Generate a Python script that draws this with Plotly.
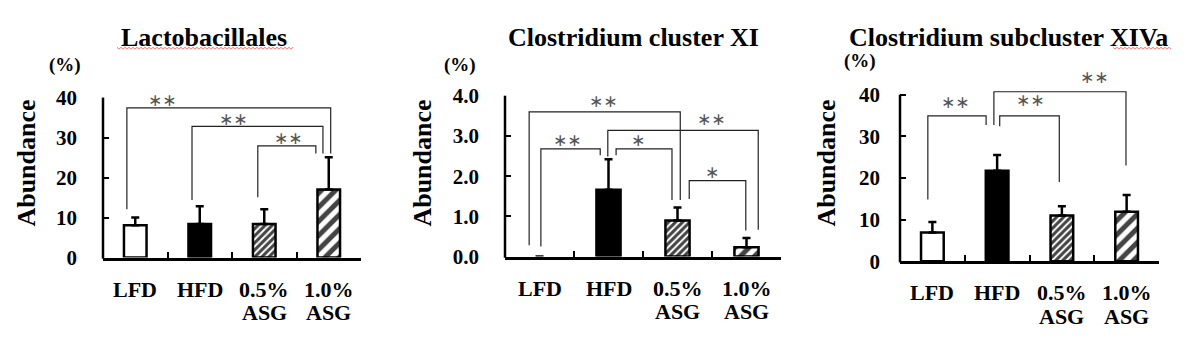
import plotly.graph_objects as go

# ---------------- data ----------------
categories = ["LFD", "HFD", "0.5%<br>ASG", "1.0%<br>ASG"]
panel_titles = ["Lactobacillales", "Clostridium cluster XI", "Clostridium subcluster XIVa"]
y_axis_title = "Abundance"
unit_label = "(%)"

lacto_mean = [8.1, 8.4, 8.4, 17.0]
lacto_sd = [1.9, 4.4, 3.7, 8.1]
clos11_mean = [0.0, 1.66, 0.90, 0.23]
clos11_sd = [0.0, 0.76, 0.32, 0.23]
clos14_mean = [6.9, 21.7, 11.0, 11.9]
clos14_sd = [2.5, 3.8, 2.2, 4.0]

lacto_ticks = [0, 10, 20, 30, 40]
clos11_ticks = [0.0, 1.0, 2.0, 3.0, 4.0]
clos14_ticks = [0, 10, 20, 30, 40]

# significance brackets (category index for x, data units for y)
lacto_br_left = [-0.13, 0.88, 1.90]
lacto_br_right = [3.03, 2.91, 2.80]
lacto_br_y = [37.4, 32.8, 27.9]
lacto_br_left_foot = [12.1, 14.4, 15.1]
lacto_br_right_foot = [26.0, 26.0, 26.0]
lacto_sig = ["**", "**", "**"]
lacto_sig_x = [0.43, 1.53, 2.37]
lacto_sig_y = [39.5, 34.7, 29.8]

clos11_br_left = [-0.15, 0.99, 0.02, 1.11, 2.17]
clos11_br_right = [2.04, 3.17, 0.88, 1.92, 2.99]
clos11_br_y = [3.60, 3.14, 2.68, 2.68, 1.89]
clos11_br_left_foot = [0.28, 2.49, 0.25, 2.52, 1.43]
clos11_br_right_foot = [1.41, 0.67, 2.52, 1.41, 0.65]
clos11_sig = ["**", "**", "**", "*", "*"]
clos11_sig_x = [0.93, 2.49, 0.41, 1.43, 2.50]
clos11_sig_y = [3.88, 3.42, 2.89, 2.89, 2.10]

clos14_br_left = [-0.07, 1.04, 0.95]
clos14_br_right = [0.83, 1.96, 2.99]
clos14_br_y = [34.9, 34.9, 40.7]
clos14_br_left_foot = [14.8, 32.4, 32.7]
clos14_br_right_foot = [32.7, 19.0, 23.0]
clos14_sig = ["**", "**", "**"]
clos14_sig_x = [0.36, 1.51, 2.50]
clos14_sig_y = [38.3, 38.7, 44.3]

# ---------------- layout constants ----------------
W, H = 1200, 343
SERIF = "Liberation Serif"

panels = [
    dict(mean=lacto_mean, sd=lacto_sd, ticks=lacto_ticks, fmt="d",
         br=(lacto_br_left, lacto_br_right, lacto_br_y, lacto_br_left_foot, lacto_br_right_foot),
         sig=(lacto_sig, lacto_sig_x, lacto_sig_y),
         xpx=(103, 361), ypx=(92, 264), ytop=40, standoff=25,
         title_xy=(204, 27), unit_xy=(65, 57), ytitle_xy=(27, 163)),
    dict(mean=clos11_mean, sd=clos11_sd, ticks=clos11_ticks, fmt=".1f",
         br=(clos11_br_left, clos11_br_right, clos11_br_y, clos11_br_left_foot, clos11_br_right_foot),
         sig=(clos11_sig, clos11_sig_x, clos11_sig_y),
         xpx=(505, 781), ypx=(90, 263), ytop=4.0, standoff=25,
         title_xy=(633, 27), unit_xy=(460, 57), ytitle_xy=(423, 163)),
    dict(mean=clos14_mean, sd=clos14_sd, ticks=clos14_ticks, fmt="d",
         br=(clos14_br_left, clos14_br_right, clos14_br_y, clos14_br_left_foot, clos14_br_right_foot),
         sig=(clos14_sig, clos14_sig_x, clos14_sig_y),
         xpx=(900, 1159), ypx=(62, 268), ytop=46, axis_top=40, standoff=19,
         title_xy=(1008, 27), unit_xy=(860, 53), ytitle_xy=(827, 163)),
]

bar_colors = ["white", "black", "white", "white"]
pat_shapes = ["", "", "/", "/"]
pat_sizes = [5, 5, 5, 10]
pat_solid = [0.3, 0.3, 0.6, 0.5]


def px(x):
    return x / W


def py(y):
    return 1 - y / H


fig = go.Figure()
shapes = []
annotations = []

for i, p in enumerate(panels, start=1):
    xa = "x" if i == 1 else f"x{i}"
    ya = "y" if i == 1 else f"y{i}"
    n = len(categories)
    outline = [2.5 if v > 0 else 0 for v in p["mean"]]
    err = [s if s > 0 else None for s in p["sd"]]
    fig.add_trace(go.Bar(
        x=list(range(n)), y=p["mean"], xaxis=xa, yaxis=ya, width=0.35,
        marker=dict(color=bar_colors, line=dict(color="black", width=outline),
                    pattern=dict(shape=pat_shapes, size=pat_sizes, solidity=pat_solid,
                                 fgcolor="black", fgopacity=1, fillmode="overlay")),
        error_y=dict(type="data", symmetric=False, array=err, arrayminus=[0] * n,
                     color="black", thickness=2.5, width=4),
        showlegend=False, hoverinfo="skip",
    ))

    dom_x = [px(p["xpx"][0]), px(p["xpx"][1])]
    dom_y = [py(p["ypx"][1]), py(p["ypx"][0])]
    ytop = p["ytop"]
    axis_top = p.get("axis_top", ytop)

    layout_x = dict(domain=dom_x, range=[-0.5, n - 0.5], showgrid=False, zeroline=False,
                    showline=True, linecolor="black", linewidth=2.5,
                    ticks="inside", tickvals=[k + 0.5 for k in range(n - 1)],
                    ticklen=6, tickwidth=2, tickcolor="black", showticklabels=False,
                    anchor=ya, fixedrange=True)
    layout_y = dict(domain=dom_y, range=[0, ytop], showgrid=False, zeroline=False,
                    showline=False, ticks="inside", tickvals=p["ticks"], ticklen=6,
                    tickwidth=2, tickcolor="black", tickformat=p["fmt"],
                    tickfont=dict(family=SERIF, size=21, color="black", weight=700),
                    ticklabelstandoff=p["standoff"], anchor=xa, fixedrange=True)
    fig.layout[("xaxis" if i == 1 else f"xaxis{i}")] = layout_x
    fig.layout[("yaxis" if i == 1 else f"yaxis{i}")] = layout_y

    # y axis line from 0 to the top tick (paper coords)
    y_bot = dom_y[0]
    y_axis_top = dom_y[0] + (dom_y[1] - dom_y[0]) * axis_top / ytop
    shapes.append(dict(type="line", xref="paper", yref="paper", x0=dom_x[0], x1=dom_x[0],
                       y0=y_bot - 1.25 / H, y1=y_axis_top, line=dict(color="black", width=2.5)))

    # brackets
    bl, brr, by, blf, brf = p["br"]
    for k in range(len(bl)):
        path = f"M {bl[k]},{blf[k]} L {bl[k]},{by[k]} L {brr[k]},{by[k]} L {brr[k]},{brf[k]}"
        shapes.append(dict(type="path", xref=xa, yref=ya, path=path,
                           line=dict(color="#222222", width=1.2)))
    st, sx, sy = p["sig"]
    for k in range(len(st)):
        annotations.append(dict(x=sx[k], y=sy[k], xref=xa, yref=ya, text=st[k].replace("*", "\u2217"),
                                showarrow=False, xanchor="center", yanchor="middle",
                                font=dict(family="DejaVu Sans", size=17, color="#555555")))

    # category labels
    for k, c in enumerate(categories):
        for j, line in enumerate(c.split("<br>")):
            annotations.append(dict(x=k, xref=xa, y=py(p["ypx"][1] + 34 + 25 * j), yref="paper",
                                    text=line, showarrow=False, xanchor="center", yanchor="middle",
                                    font=dict(family=SERIF, size=22, color="black", weight=700)))

    # titles / axis title / unit
    annotations.append(dict(x=px(p["title_xy"][0]), y=py(p["title_xy"][1]), xref="paper", yref="paper",
                            text=panel_titles[i - 1], showarrow=False, xanchor="center", yanchor="middle",
                            font=dict(family=SERIF, size=26, color="black", weight=700)))
    annotations.append(dict(x=px(p["unit_xy"][0]), y=py(p["unit_xy"][1]), xref="paper", yref="paper",
                            text=unit_label, showarrow=False, xanchor="center", yanchor="middle",
                            font=dict(family=SERIF, size=19, color="black", weight=700)))
    annotations.append(dict(x=px(p["ytitle_xy"][0]), y=py(p["ytitle_xy"][1]), xref="paper", yref="paper",
                            text=y_axis_title, showarrow=False, textangle=-90,
                            xanchor="center", yanchor="middle",
                            font=dict(family=SERIF, size=26, color="black", weight=700)))


# red spell-check wavy underlines (decoration)
def wavy(x0, x1, y, step=2.0, amp=1.0):
    pts = []
    xv = x0
    k = 0
    while xv <= x1:
        pts.append((px(xv), py(y + (amp if k % 2 else -amp))))
        xv += step
        k += 1
    return "M " + " L ".join(f"{a:.5f},{b:.5f}" for a, b in pts)


for (ux0, ux1, uy) in [(117, 293, 39), (1113, 1172, 39)]:
    shapes.append(dict(type="path", xref="paper", yref="paper", path=wavy(ux0, ux1, uy),
                       line=dict(color="#f07070", width=1)))

fig.update_layout(width=W, height=H, margin=dict(l=0, r=0, t=0, b=0),
                  paper_bgcolor="white", plot_bgcolor="white",
                  shapes=shapes, annotations=annotations, bargap=0.65)

fig.write_html("out.html")
